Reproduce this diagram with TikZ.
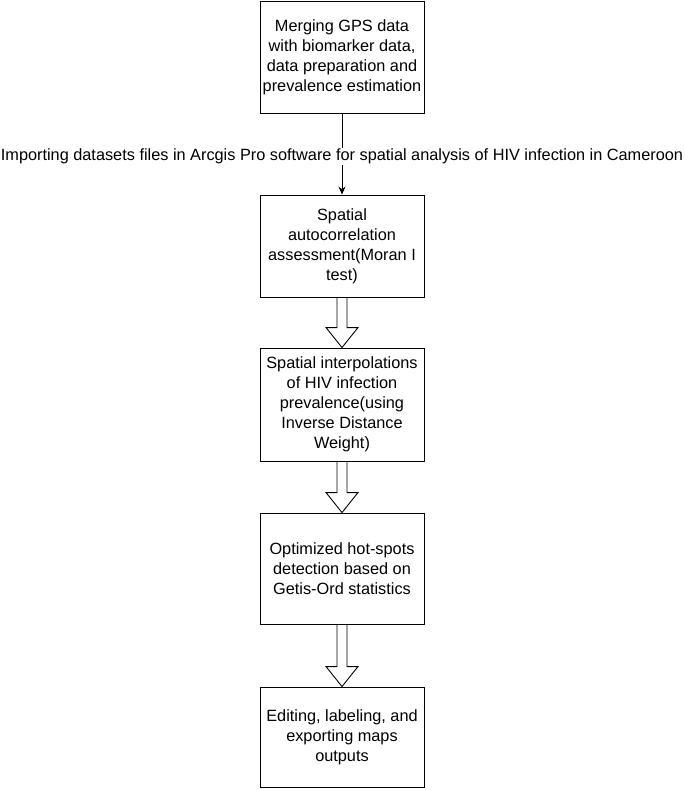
\documentclass[tikz,border=0pt]{standalone}
\usepackage{fontspec}
\setmainfont{Liberation Sans}
\usetikzlibrary{calc,arrows.meta}
\tikzset{
  stepbox/.style={draw, line width=0.9pt, minimum width=164pt, inner sep=0pt, align=center, font=\fontsize{16.3}{20}\selectfont},
  thinarrow/.style={line width=0.9pt, -{Stealth[length=8pt,width=7pt]}}
}
\def\hollowarrow(#1)(#2){\draw[line width=0.9pt,fill=white] ($(#1)+(-5,0)$) -- ($(#2)+(-5,-20)$) -- ($(#2)+(-16,-20)$) -- (#2) -- ($(#2)+(16,-20)$) -- ($(#2)+(5,-20)$) -- ($(#1)+(5,0)$) -- cycle;}

\begin{document}
\begin{tikzpicture}[x=1pt,y=-1pt]
			%%%%% START %%%%%
			\useasboundingbox (0,0) rectangle (685,790);
			
			\node[stepbox, minimum height=112pt] (merge) at (342, 57) {Merging GPS data\\with biomarker data,\\data preparation and\\prevalence estimation};
			\node[stepbox, minimum height=102pt] (moran) at (342, 246) {Spatial\\autocorrelation\\assessment(Moran I\\test)};
			\node[stepbox, minimum height=113pt] (idw) at (342, 404.5) {Spatial interpolations\\of HIV infection\\prevalence(using\\Inverse Distance\\Weight)};
			\node[stepbox, minimum height=111pt] (hotspot) at (342, 568.5) {Optimized hot-spots\\detection based on\\Getis-Ord statistics};
			\node[stepbox, minimum height=100pt] (maps) at (342, 737) {Editing, labeling, and\\exporting maps\\outputs};
			
			\draw[thinarrow] (merge) -- node[pos=0.53, fill=white, inner sep=1pt, font=\fontsize{16.3}{18}\selectfont] {Importing datasets files in Arcgis Pro software for spatial analysis of HIV infection in Cameroon} (moran);
			
			\hollowarrow(moran.south)(idw.north)
			\hollowarrow(idw.south)(hotspot.north)
			\hollowarrow(hotspot.south)(maps.north)
			%%%%% END %%%%%
\end{tikzpicture}
\end{document}
